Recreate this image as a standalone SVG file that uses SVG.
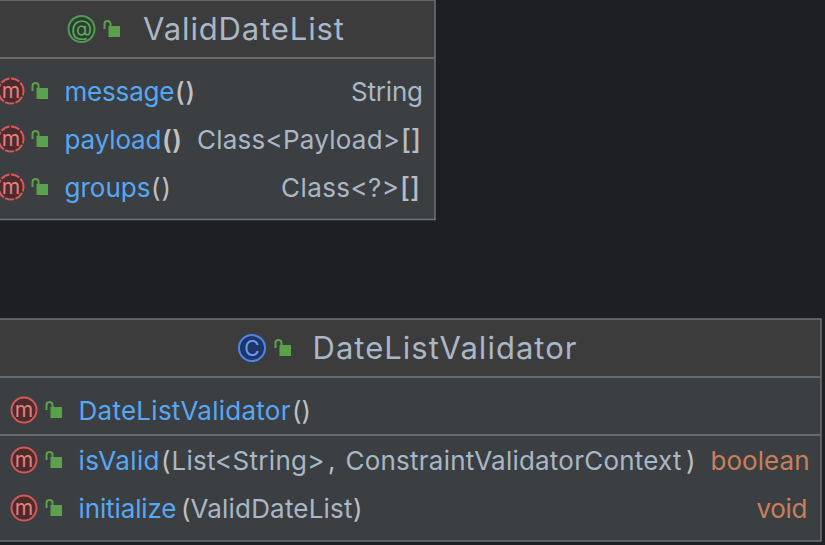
<svg xmlns="http://www.w3.org/2000/svg" width="825" height="545" viewBox="0 0 825 545">
<defs>
<style>
text{font-family:Inter,"Noto Sans","Liberation Sans",sans-serif;font-size:26px}
.t{font-size:31px;fill:#a9b7c6}
.b{fill:#56a8f5}.g{fill:#a9b7c6}.p{fill:#c0c0c0}.o{fill:#c87f5c}
.br{fill:#b8bcc0;font-size:27px;font-weight:500}
.box{fill:#3c3f41;stroke:#6f7173;stroke-width:1.500}
.hd{fill:#3c3c3c}
.sep{stroke:#7a7a7a;stroke-width:1.500;fill:none}
</style>
<g id="lock"><path d="M-7.500 -1V-6Q-7.500 -9 -4.500 -9Q-1.500 -9 -1.500 -6V-4" fill="none" stroke="#59a14a" stroke-width="2"/><rect x="-3.500" y="-4" width="11.500" height="11" fill="#59a14a"/></g>
<g id="m"><circle r="12.500" fill="#4a2c2c" stroke="#d9575a" stroke-width="2"/><text y="6.500" text-anchor="middle" style="font-size:21px;fill:#ea7e80">m</text></g>
<g id="md"><circle r="12.500" fill="#4a2c2c" stroke="#d9575a" stroke-width="2" stroke-dasharray="9 1.500" stroke-dashoffset="4.500"/><text y="6.500" text-anchor="middle" style="font-size:21px;fill:#ea7e80">m</text></g>
</defs>
<rect width="825" height="545" fill="#1e1f22"/>
<g id="connectors"/>
<g id="ValidDateList">
<rect class="box" x="-5" y="0" width="440" height="219.500"/>
<rect class="hd" x="-5" y="1" width="439" height="57"/>
<path class="sep" d="M0 58H434"/>
<circle cx="81.500" cy="29" r="13" fill="#2b3f2b" stroke="#4f9a55" stroke-width="2"/>
<text x="81.500" y="36" text-anchor="middle" style="font-size:22px;fill:#5fa463">@</text>
<use href="#lock" x="112" y="30"/>
<text class="t" x="143" y="40" textLength="201">ValidDateList</text>
<use href="#md" x="11" y="91"/><use href="#lock" x="40" y="92"/>
<text class="b" x="64.500" y="101" textLength="110">message</text><text class="p" x="175" y="101" textLength="20" style="font-weight:500">()</text>
<text class="g" x="351" y="101" textLength="72">String</text>
<use href="#md" x="11" y="139"/><use href="#lock" x="40" y="140"/>
<text class="b" x="64.500" y="149" textLength="97">payload</text><text class="p" x="162" y="149" textLength="20" style="font-weight:600">()</text>
<text class="g" x="197" y="149" textLength="203">Class&lt;Payload&gt;</text><text class="br" x="401" y="149" textLength="20">[]</text>
<use href="#md" x="11" y="187"/><use href="#lock" x="40" y="188"/>
<text class="b" x="64.500" y="197" textLength="86">groups</text><text class="p" x="151" y="197" textLength="20">()</text>
<text class="g" x="281" y="197" textLength="118">Class&lt;?&gt;</text><text class="br" x="400" y="197" textLength="20">[]</text>
</g>
<g id="DateListValidator">
<rect class="box" x="-5" y="319" width="826" height="222"/>
<rect class="hd" x="-5" y="320" width="825" height="57"/>
<path class="sep" d="M0 377H820M0 435H820"/>
<circle cx="252" cy="348" r="13" fill="#1f3768" stroke="#4f84ee" stroke-width="2"/>
<text x="252" y="355.500" text-anchor="middle" style="font-size:21px;fill:#6d9cf0">C</text>
<use href="#lock" x="283" y="349"/>
<text class="t" x="312.500" y="359" textLength="264">DateListValidator</text>
<use href="#m" x="24" y="410"/><use href="#lock" x="54" y="411"/>
<text class="b" x="78.500" y="420" textLength="212">DateListValidator</text><text class="p" x="292" y="420" textLength="19">()</text>
<use href="#m" x="24" y="460"/><use href="#lock" x="54" y="461"/>
<text class="b" x="78.500" y="470" textLength="81">isValid</text><text class="p" x="161" y="470">(</text>
<text class="g" x="171.500" y="470" textLength="153">List&lt;String&gt;</text><text class="p" x="328" y="470">,</text>
<text class="g" x="345.500" y="470" textLength="336">ConstraintValidatorContext</text><text class="p" x="686" y="470">)</text>
<text class="o" x="710.500" y="470" textLength="99">boolean</text>
<use href="#m" x="24" y="508"/><use href="#lock" x="54" y="509"/>
<text class="b" x="78.500" y="518" textLength="98">initialize</text><text class="p" x="181" y="518">(</text>
<text class="g" x="190.500" y="518" textLength="162">ValidDateList</text><text class="p" x="353" y="518">)</text>
<text class="o" x="756.500" y="518" textLength="51">void</text>
</g>
</svg>
